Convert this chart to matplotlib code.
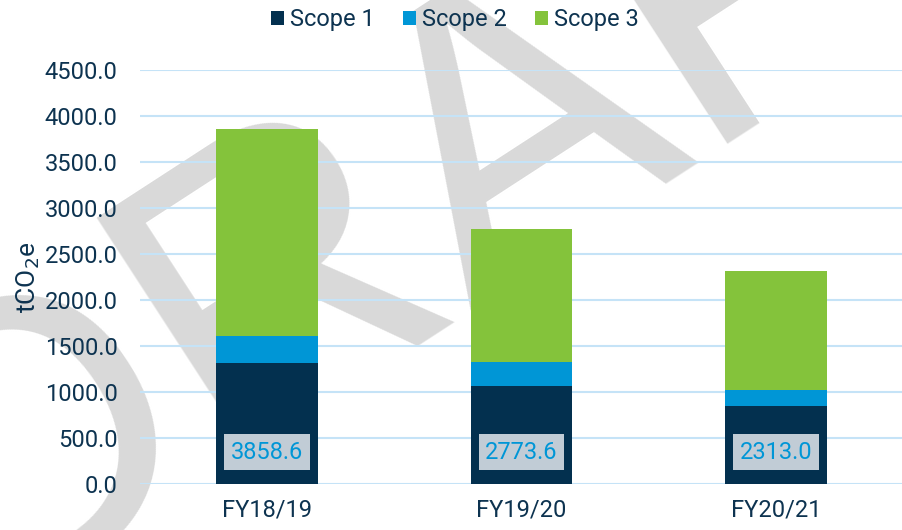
import matplotlib.pyplot as plt
import numpy as np

plt.rcParams['font.family'] = ['Roboto', 'DejaVu Sans']

years = ["FY18/19", "FY19/20", "FY20/21"]
scope1 = [1317, 1071, 853]
scope2 = [290, 253, 167]
scope3 = [2251.6, 1449.6, 1293.0]
totals = [3858.6, 2773.6, 2313.0]

c1 = "#03304f"
c2 = "#0096d6"
c3 = "#84c33b"
txt = "#0d3350"

fig = plt.figure(figsize=(9.03, 5.30), dpi=100)
ax = fig.add_axes([0.155, 0.086, 0.845, 0.782])
ax.patch.set_visible(False)

# DRAFT watermark behind everything
fig.text(0.60, 0.543, "DRAFT", fontsize=295, color="#d9d9d9", rotation=33,
         rotation_mode="anchor", ha="center", va="baseline", zorder=-1,
         family="Liberation Sans")

x = np.arange(len(years))
w = 0.4
ax.bar(x, scope1, w, color=c1, label="Scope 1", zorder=3)
ax.bar(x, scope2, w, bottom=scope1, color=c2, label="Scope 2", zorder=3)
bottom3 = np.array(scope1) + np.array(scope2)
ax.bar(x, scope3, w, bottom=bottom3, color=c3, label="Scope 3", zorder=3)

for xi, t in zip(x, totals):
    ax.text(xi, 350, f"{t:.1f}", ha="center", va="center", fontsize=17, color=c2, zorder=4,
            bbox=dict(boxstyle="square,pad=0.28", facecolor="#c1ccd6", edgecolor="none"))

ax.set_xlim(-0.5, 2.5)
ax.set_ylim(0, 4500)
ax.set_yticks(np.arange(0, 4501, 500))
ax.set_yticklabels([f"{v:.1f}" for v in np.arange(0, 4501, 500)])
ax.set_xticks(x)
ax.set_xticklabels(years)
ax.tick_params(axis="both", length=0, labelsize=17, labelcolor=txt)
ax.tick_params(axis="y", pad=16)
ax.tick_params(axis="x", pad=10)
ax.yaxis.grid(True, color="#c5e3f7", linewidth=1.5, zorder=1)
ax.set_axisbelow(True)
for s in ax.spines.values():
    s.set_visible(False)

ax.set_ylabel("tCO$_2$e", fontsize=19, color=txt, labelpad=2)

ax.legend(loc="upper center", bbox_to_anchor=(0.413, 1.20), ncol=3, frameon=False,
          fontsize=17, labelcolor=txt, handlelength=0.55, handleheight=0.55,
          handletextpad=0.25, columnspacing=1.2)

plt.savefig("out.png", dpi=100)
